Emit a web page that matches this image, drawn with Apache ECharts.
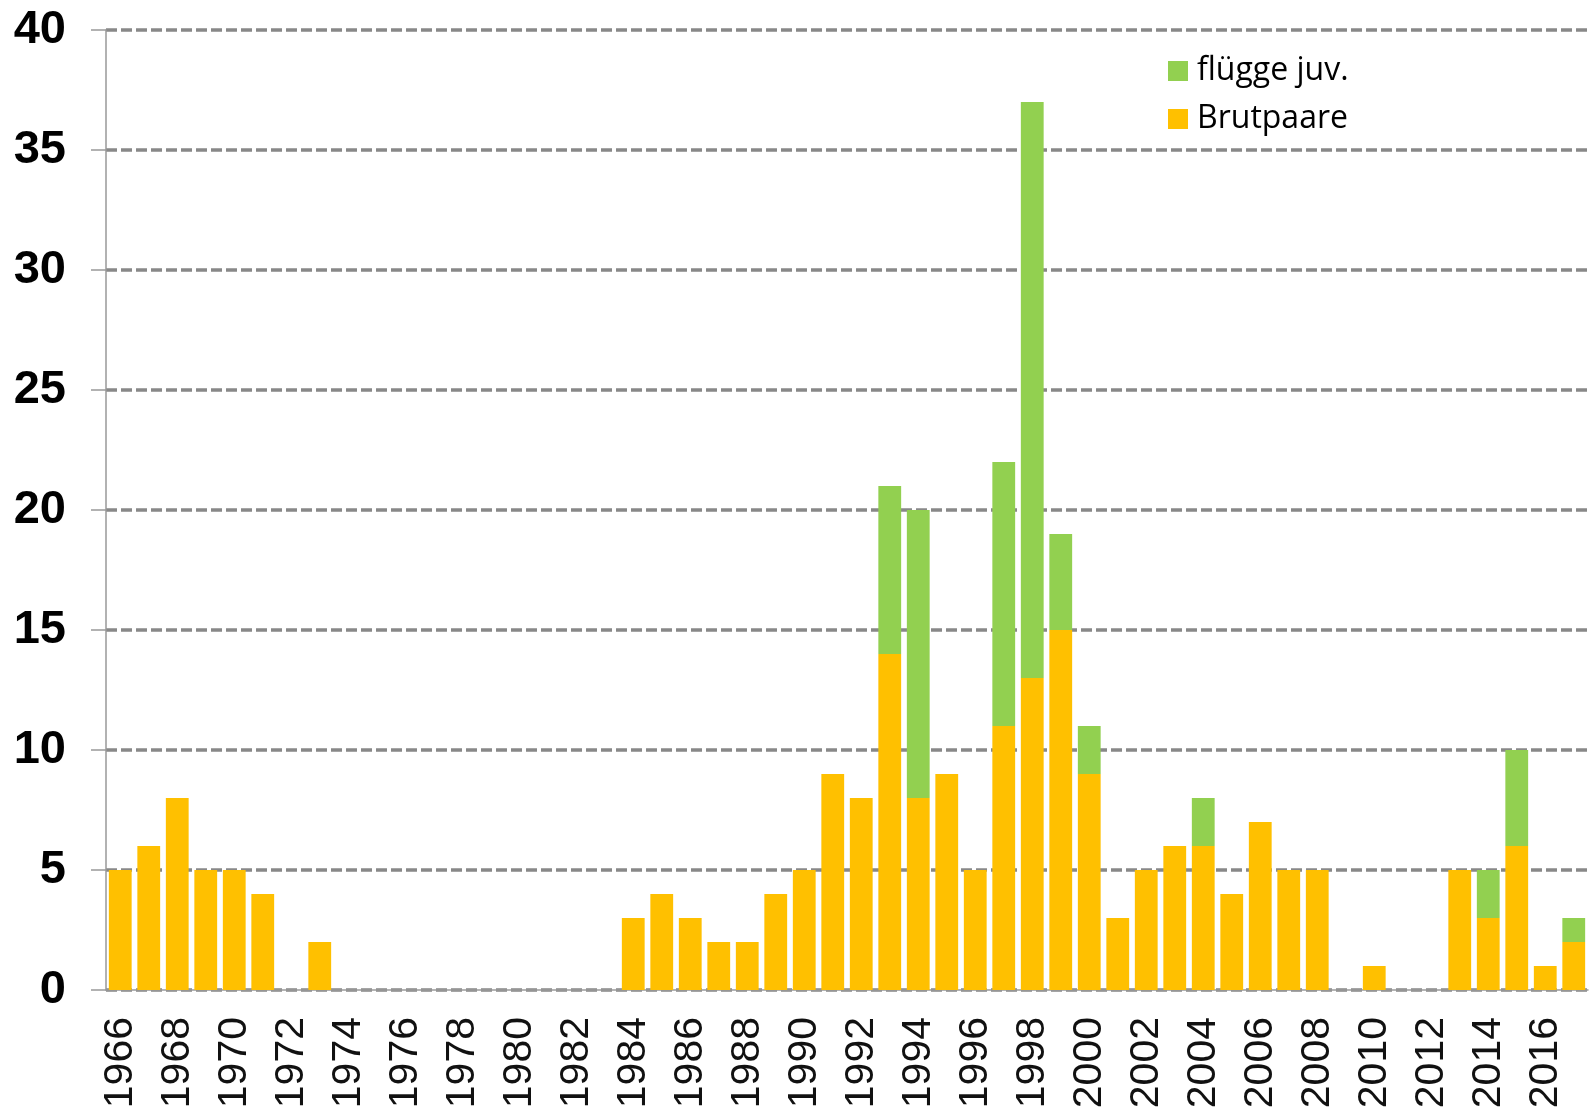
<!DOCTYPE html>
<html>
<head>
<meta charset="utf-8">
<script src="https://cdn.jsdelivr.net/npm/echarts@6/dist/echarts.min.js"></script>
<style>
  html, body { margin: 0; padding: 0; background: #fff; }
  #chart { width: 1591px; height: 1114px; }
</style>
</head>
<body>
<div id="chart"></div>
<script>
// Jahre (x-Achse)
const years = [
  '1966', '1967', '1968', '1969', '1970', '1971', '1972', '1973', '1974', '1975',
  '1976', '1977', '1978', '1979', '1980', '1981', '1982', '1983', '1984', '1985',
  '1986', '1987', '1988', '1989', '1990', '1991', '1992', '1993', '1994', '1995',
  '1996', '1997', '1998', '1999', '2000', '2001', '2002', '2003', '2004', '2005',
  '2006', '2007', '2008', '2009', '2010', '2011', '2012', '2013', '2014', '2015',
  '2016', '2017'
]

// Brutpaare je Jahr
const brutpaare = [
  5, 6, 8, 5, 5, 4, 0, 2, 0, 0,
  0, 0, 0, 0, 0, 0, 0, 0, 3, 4,
  3, 2, 2, 4, 5, 9, 8, 14, 8, 9,
  5, 11, 13, 15, 9, 3, 5, 6, 6, 4,
  7, 5, 5, 0, 1, 0, 0, 5, 3, 6,
  1, 2
]

// flügge Jungvögel je Jahr (auf Brutpaare gestapelt)
const juvenile = [
  0, 0, 0, 0, 0, 0, 0, 0, 0, 0,
  0, 0, 0, 0, 0, 0, 0, 0, 0, 0,
  0, 0, 0, 0, 0, 0, 0, 7, 12, 0,
  0, 11, 24, 4, 2, 0, 0, 0, 2, 0,
  0, 0, 0, 0, 0, 0, 0, 0, 2, 4,
  0, 1
]

const chart = echarts.init(document.getElementById('chart'))

const option = {
  animation: false,
  backgroundColor: '#fff',
  grid: {
    left: 106,
    right: 3,
    top: 30,
    bottom: 124
  },
  legend: {
    orient: 'vertical',
    left: 1163,
    top: 50,
    itemWidth: 20,
    itemHeight: 20,
    itemGap: 16,
    icon: 'rect',
    data: ['flügge juv.', 'Brutpaare'],
    textStyle: {
      fontFamily: 'Open Sans',
      fontSize: 32,
      lineHeight: 32,
      color: '#000',
      padding: [0, 0, 0, 4]
    }
  },
  xAxis: {
    type: 'category',
    data: years,
    axisLine: { lineStyle: { color: '#999', width: 1.5 } },
    axisTick: {
      interval: 0,
      length: 18,
      lineStyle: { color: '#999', width: 1.5 }
    },
    axisLabel: {
      interval: 1,
      rotate: 90,
      margin: 27,
      fontFamily: 'Liberation Sans',
      fontSize: 41,
      color: '#111'
    }
  },
  yAxis: {
    type: 'value',
    min: 0,
    max: 40,
    interval: 5,
    axisLine: { show: true, lineStyle: { color: '#999', width: 1.5 } },
    axisTick: { show: true, length: 15, lineStyle: { color: '#999', width: 1.5 } },
    axisLabel: {
      margin: 40,
      fontFamily: 'Liberation Sans',
      fontWeight: 'bold',
      fontSize: 47,
      color: '#000'
    },
    splitLine: {
      lineStyle: { color: '#888', width: 3.5, type: [11, 4] }
    }
  },
  series: [
    {
      name: 'Brutpaare',
      type: 'bar',
      stack: 'total',
      barCategoryGap: '20%',
      itemStyle: { color: '#FFC000' },
      data: brutpaare
    },
    {
      name: 'flügge juv.',
      type: 'bar',
      stack: 'total',
      barCategoryGap: '20%',
      itemStyle: { color: '#92D050' },
      data: juvenile
    }
  ]
}

chart.setOption(option)
</script>
</body>
</html>
